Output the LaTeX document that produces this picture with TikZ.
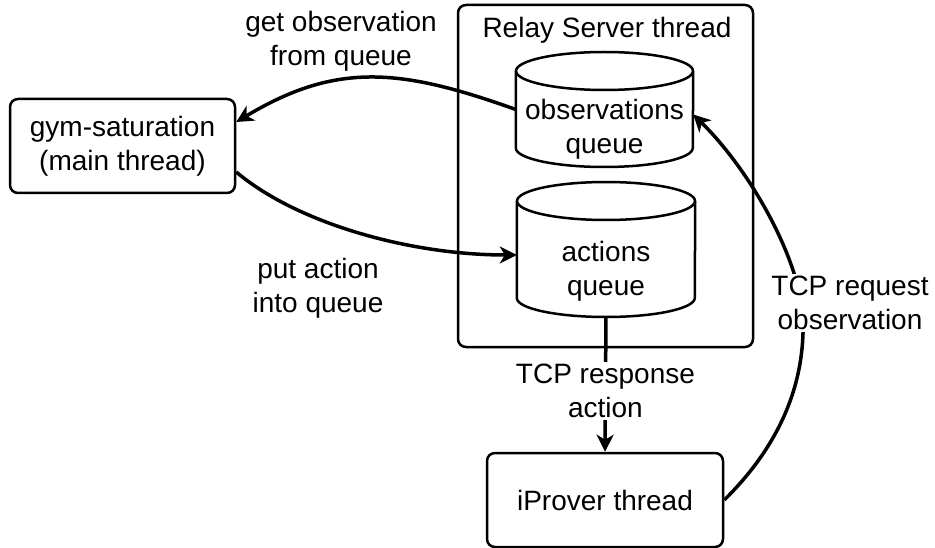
\documentclass[tikz,border=0pt]{standalone}
\usepackage{fontspec}
\setmainfont{Liberation Sans}
\usetikzlibrary{arrows.meta}
\begin{document}
\begin{tikzpicture}[x=1pt,y=-1pt,
  every node/.style={font=\fontsize{28}{34}\selectfont, align=center},
  box/.style={draw, line width=2.5pt, rounded corners=8pt, inner sep=0pt},
  cylbody/.style={inner sep=0pt},
  cylline/.style={line width=2.5pt},
  conn/.style={line width=3.5pt, -{Stealth[length=17pt,width=17pt,inset=5pt]}},
  lbl/.style={inner sep=2pt}]
\useasboundingbox (0,0) rectangle (935,548);
% relay server container
\node[box, minimum width=295pt, minimum height=342pt] (relay) at (605.5,176) {};
\node (relaytitle) at (607,30) {Relay Server thread};
% observations queue cylinder
\node[cylbody, minimum width=177pt, minimum height=115pt] (obs) at (604.5,109.5) {};
\draw[cylline, fill=white] (obs.west |- 0,71) -- (obs.west |- 0,148)
  arc[start angle=180, end angle=0, x radius=88.5, y radius=19]
  -- (obs.east |- 0,71);
\draw[cylline] (604.5,71) ellipse [x radius=88.5, y radius=19];
\node (obstext) at (604.5,129) {observations\\queue};
% actions queue cylinder
\node[cylbody, minimum width=178pt, minimum height=135pt] (act) at (606,249.5) {};
\draw[cylline, fill=white] (act.west |- 0,201) -- (act.west |- 0,298)
  arc[start angle=180, end angle=0, x radius=89, y radius=19]
  -- (act.east |- 0,201);
\draw[cylline] (606,201) ellipse [x radius=89, y radius=19];
\node (acttext) at (606,271) {actions\\queue};
% gym-saturation
\node[box, minimum width=225pt, minimum height=94pt] (gym) at (122.5,146) {gym-saturation\\(main thread)};
% iProver
\node[box, minimum width=236pt, minimum height=94pt] (ipr) at (605,500) {iProver thread};
% connectors
\draw[conn] (obs.west) .. controls (400,68) and (336,62) .. ([yshift=24pt]gym.east);
\draw[conn] ([yshift=-26pt]gym.east) .. controls (298,224) and (411,255) .. ([yshift=-5.5pt]act.west);
\draw[conn] (act.south) -- node[pos=0.55, fill=white, lbl] (resplbl) {TCP response\\action} (ipr.north);
\coordinate (mid) at (803,320);
\draw[conn] (ipr.east) .. controls (775,450) and (805,390) .. (mid)
  .. controls (801,260) and (750,170) .. ([yshift=-5pt]obs.east);
% labels
\node[fill=white, lbl] (reqlbl) at (850,303) {TCP request\\observation};
\node[lbl] (getlbl) at (341,41) {get observation\\from queue};
\node[lbl] (putlbl) at (318,288) {put action\\into queue};
\end{tikzpicture}
\end{document}
